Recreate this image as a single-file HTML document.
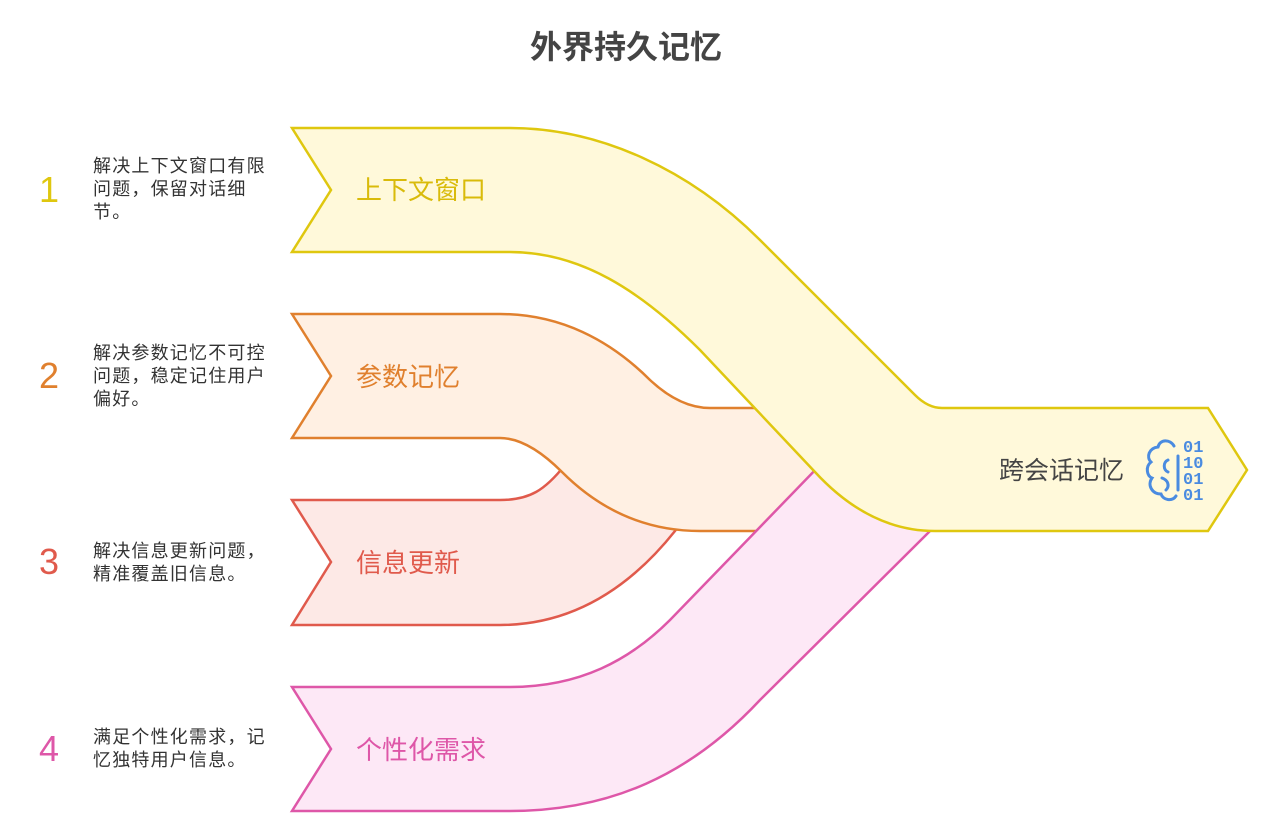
<!DOCTYPE html>
<html><head><meta charset="utf-8"><style>
body{margin:0;width:1265px;height:840px;background:#fff;overflow:hidden;font-family:"Liberation Sans","Noto Sans CJK SC",sans-serif}
svg{position:absolute;left:0;top:0}
.t{position:absolute;font-size:18px;letter-spacing:1.2px;line-height:23px;color:#333;white-space:nowrap}
.n{position:absolute;font-size:36px;line-height:36px}
</style></head><body>
<svg width="1265" height="840" viewBox="0 0 1265 840" font-family="Liberation Sans, Noto Sans CJK SC, sans-serif">
<text x="626" y="58" text-anchor="middle" font-size="32" font-weight="bold" fill="#444">外界持久记忆</text>
<path d="M292,500 L500,500 C530,500 545,490 565,465 L720,465 L675,531 C620,600 560,625 500,625 L292,625 L331,562 Z" fill="#fde9e6" stroke="#e05a4c" stroke-width="2.5"/>
<path d="M292,314 L500,314 C560,314 610,340 650,380 Q680,408 710,408 L850,408 L850,531 L700,531 C640,531 595,505 562,472 C535,445 515,438 500,438 L292,438 L331,376 Z" fill="#fff0e3" stroke="#e0802e" stroke-width="2.5"/>
<path d="M292,687 L510,687 C580,687 630,660 670,620 L820,465 L960,465 L930,531 L760,700 C690,775 610,811 510,811 L292,811 L331,749 Z" fill="#fde8f6" stroke="#de57a8" stroke-width="2.5"/>
<path d="M292,128 L510,128 C600,128 690,170 760,240 L915,395 Q928,408 942,408 L1208,408 L1247,470 L1208,531 L935,531 C890,531 850,510 815,472 L700,350 C640,290 580,252 510,252 L292,252 L331,190 Z" fill="#fff9da" stroke="#dfc70f" stroke-width="2.5"/>
<text x="356" y="199" font-size="26" fill="#d9bb0a">上下文窗口</text>
<text x="356" y="386" font-size="26" fill="#e0802e">参数记忆</text>
<text x="356" y="572" font-size="26" fill="#e05a4c">信息更新</text>
<text x="356" y="759" font-size="26" fill="#de57a8">个性化需求</text>
<text x="999" y="479" font-size="25" fill="#444">跨会话记忆</text>
<g stroke="#4a8be0" stroke-width="3" fill="none" stroke-linecap="round">
<path d="M1174,446 C1170,439 1160,439 1158,447 C1149,448 1146,457 1151,462 C1145,467 1147,476 1152,478 C1147,485 1152,494 1161,494 C1163,500 1172,502 1176,496"/>
<path d="M1178,456 L1178,490"/>
<path d="M1168,460 C1163,462 1163,470 1168,472"/>
<path d="M1162,478 C1168,480 1170,486 1166,490"/>
</g>
<g font-family="Liberation Mono, monospace" font-size="17" font-weight="bold" fill="#4a8be0">
<text x="1183" y="452">01</text><text x="1183" y="468">10</text><text x="1183" y="484">01</text><text x="1183" y="500">01</text>
</g>
</svg>
<div class="n" style="left:39px;top:172px;color:#dfc70f">1</div>
<div class="n" style="left:39px;top:358px;color:#e0802e">2</div>
<div class="n" style="left:39px;top:544px;color:#e05a4c">3</div>
<div class="n" style="left:39px;top:731px;color:#de57a8">4</div>
<div class="t" style="left:93px;top:155px">解决上下文窗口有限<br>问题，保留对话细<br>节。</div>
<div class="t" style="left:93px;top:342px">解决参数记忆不可控<br>问题，稳定记住用户<br>偏好。</div>
<div class="t" style="left:93px;top:540px">解决信息更新问题，<br>精准覆盖旧信息。</div>
<div class="t" style="left:93px;top:726px">满足个性化需求，记<br>忆独特用户信息。</div>
</body></html>
